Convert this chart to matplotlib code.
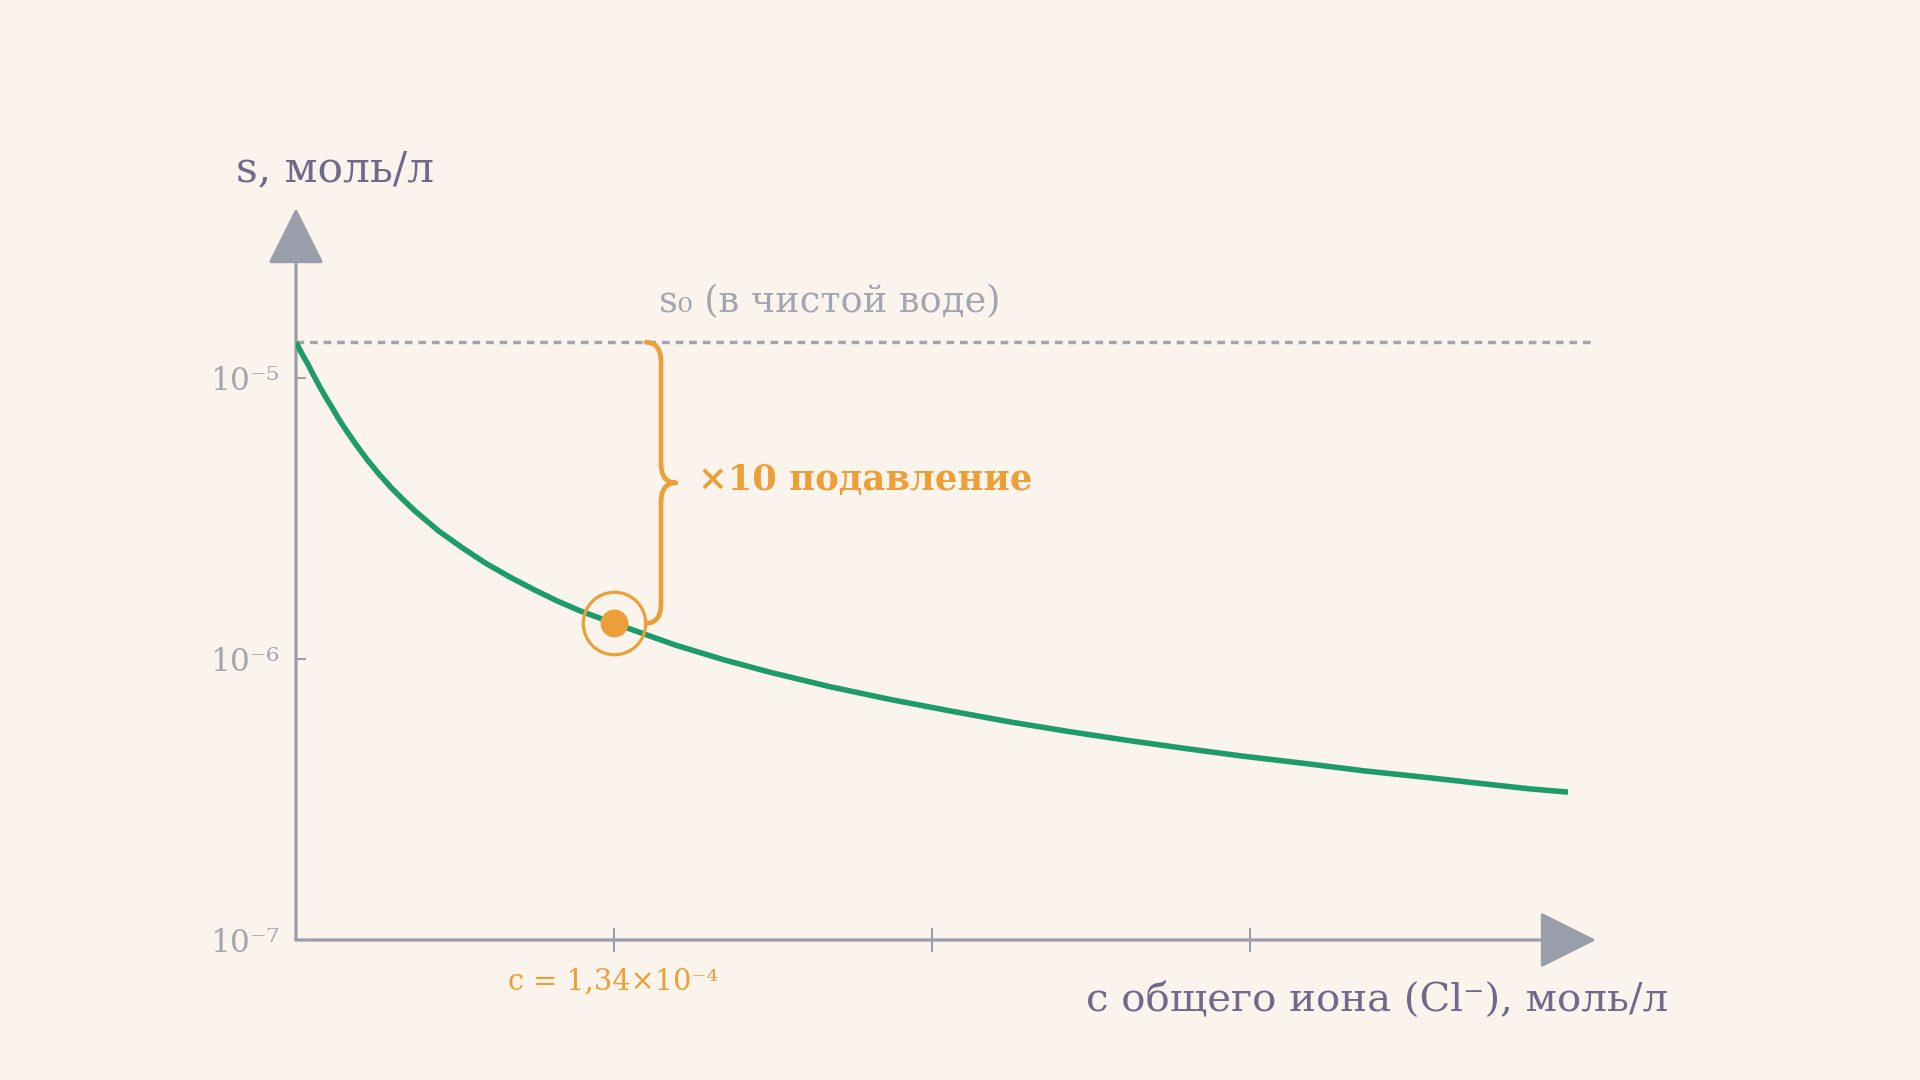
import numpy as np
import matplotlib
matplotlib.use('Agg')
import matplotlib.pyplot as plt
from matplotlib.path import Path
from matplotlib.patches import PathPatch
from matplotlib.transforms import IdentityTransform

# Values (mol/L)
c_ion = [0, 0.25e-5, 0.5e-5, 0.75e-5, 1e-5, 1.25e-5, 1.5e-5, 1.75e-5, 2e-5,
         2.5e-5, 3e-5, 3.5e-5, 4e-5, 4.5e-5, 5e-5, 6e-5, 7e-5, 8e-5, 9e-5,
         1.0e-4, 1.1e-4, 1.2e-4, 1.34e-4, 1.6e-4, 1.8e-4, 2.0e-4, 2.25e-4,
         2.5e-4, 2.75e-4, 3.0e-4, 3.25e-4, 3.5e-4, 3.75e-4, 4.0e-4, 4.25e-4,
         4.5e-4, 4.75e-4, 5.0e-4, 5.2e-4, 5.36e-4]
s_sol = [1.34e-5, 1.22e-5, 1.12e-5, 1.02e-5, 9.3e-6, 8.55e-6, 7.9e-6,
         7.27e-6, 6.73e-6, 5.84e-6, 5.12e-6, 4.55e-6, 4.08e-6, 3.7e-6,
         3.37e-6, 2.86e-6, 2.49e-6, 2.19e-6, 1.96e-6, 1.77e-6, 1.61e-6,
         1.48e-6, 1.34e-6, 1.12e-6, 9.95e-7, 8.96e-7, 7.97e-7, 7.19e-7,
         6.55e-7, 5.99e-7, 5.53e-7, 5.14e-7, 4.8e-7, 4.5e-7, 4.25e-7,
         4.0e-7, 3.8e-7, 3.6e-7, 3.45e-7, 3.36e-7]
s0 = 1.34e-5
c_mark = 1.34e-4
s_mark = 1.34e-6
x_ticks = [1.34e-4, 2.68e-4, 4.02e-4]
y_ticks = [1e-7, 1e-6, 1e-5]
y_ticklabels = ['10⁻⁷', '10⁻⁶', '10⁻⁵']

BG = '#FAF4ED'
AXIS = '#9A9EAA'
GREEN = '#1E9B6A'
ORANGE = '#EC9F37'
LABEL = '#6F6A8C'
SOFT = '#A3A6B0'
FONT = 'DejaVu Serif'

W, H = 1920, 1080
fig = plt.figure(figsize=(W / 100, H / 100), dpi=100, facecolor=BG)
ax = fig.add_axes([296 / W, 140 / H, 1300 / W, 732 / H])
ax.set_facecolor(BG)
ax.set_yscale('log')
ax.set_xlim(0, 5.478e-4)
ax.set_ylim(1e-7, 10 ** -4.395)
for sp in ax.spines.values():
    sp.set_visible(False)

# axes with arrowheads
head = '-|>,head_length=36,head_width=18'
ax.annotate('', xy=(1, 0), xytext=(0, 0), xycoords='axes fraction',
            arrowprops=dict(arrowstyle=head, mutation_scale=1, lw=2.3,
                            color=AXIS, shrinkA=0, shrinkB=0))
ax.annotate('', xy=(0, 1), xytext=(0, 0), xycoords='axes fraction',
            arrowprops=dict(arrowstyle=head, mutation_scale=1, lw=2.3,
                            color=AXIS, shrinkA=0, shrinkB=0))

ax.set_yticks(y_ticks)
ax.set_yticklabels(y_ticklabels, fontsize=22.5, color=SOFT, family=FONT)
ax.yaxis.set_minor_locator(matplotlib.ticker.NullLocator())
ax.tick_params(axis='y', direction='in', length=7, width=1.5, color=AXIS,
               pad=12)
ax.set_xticks(x_ticks)
ax.set_xticklabels([])
ax.tick_params(axis='x', direction='inout', length=17, width=1.5,
               color=AXIS)
ax.xaxis.get_major_ticks()[0].tick1line.set_color(ORANGE)

# s0 level and curve
ax.plot([0, 5.46e-4], [s0, s0], color='#A0A4AF', lw=2.5,
        ls=(0, (2.2, 1.7)), zorder=2)
ax.plot(c_ion, s_sol, color=GREEN, lw=4, solid_capstyle='butt',
        solid_joinstyle='round', zorder=3)

# marked point
ax.plot(c_mark, s_mark, 'o', ms=19, color=ORANGE, zorder=4)
ax.plot(c_mark, s_mark, 'o', ms=45, mfc='none', mec=ORANGE, mew=2.3,
        zorder=4)

# curly brace between s0 and the marked point
fig.canvas.draw()
px, py_top = ax.transData.transform((c_mark, s0))
_, py_bot = ax.transData.transform((c_mark, s_mark))
xb = px + 47
ym = (py_top + py_bot) / 2
w, r = 15, 20
verts = [(xb - w, py_top), (xb, py_top), (xb, py_top - r),
         (xb, ym + r), (xb, ym), (xb + w, ym),
         (xb, ym), (xb, ym - r),
         (xb, py_bot + r), (xb, py_bot), (xb - w, py_bot)]
codes = [Path.MOVETO, Path.CURVE3, Path.CURVE3,
         Path.LINETO, Path.CURVE3, Path.CURVE3,
         Path.CURVE3, Path.CURVE3,
         Path.LINETO, Path.CURVE3, Path.CURVE3]
fig.add_artist(PathPatch(Path(verts, codes), transform=IdentityTransform(),
                         fc='none', ec=ORANGE, lw=3.4, capstyle='round',
                         joinstyle='round'))

# texts
fig.text(236 / W, 1 - 169 / H, 's, моль/л', fontsize=30.5, color=LABEL,
         family=FONT, ha='left', va='center')
fig.text(1668 / W, 1 - 1000 / H, 'с общего иона (Cl⁻), моль/л', fontsize=29,
         color=LABEL, family=FONT, ha='right', va='center')
fig.text(830 / W, 1 - 302 / H, 's₀ (в чистой воде)', fontsize=26.5,
         color=SOFT, family=FONT, ha='center', va='center')
fig.text(698 / W, 1 - 480 / H, '×10 подавление', fontsize=25.5,
         color=ORANGE, family=FONT, fontweight='bold', ha='left',
         va='center')
fig.text(613 / W, 1 - 982 / H, 'c = 1,34×10⁻⁴', fontsize=20.7, color=ORANGE,
         family=FONT, ha='center', va='center')

fig.savefig('out.png', dpi=100, facecolor=BG)
